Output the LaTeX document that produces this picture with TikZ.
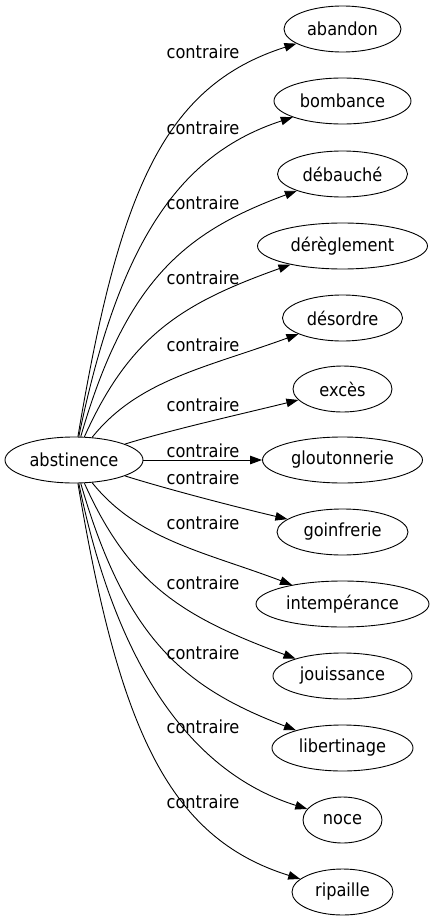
\documentclass[tikz,border=0pt]{standalone}
\usepackage{fontspec}
\setmainfont{DejaVu Sans Condensed}
\usetikzlibrary{
  arrows.meta,
  shapes.geometric,
}

\tikzset{
  word/.style={draw, ellipse, inner sep=0pt, minimum height=46pt, line width=0.9pt},
  rel/.style={-{Triangle[length=12pt,width=8.5pt]}, line width=0.9pt},
  lbl/.style={inner sep=0pt},
}

\begin{document}
\begin{tikzpicture}[x=1pt, y=-1pt, font=\fontsize{18}{21}\selectfont]

\useasboundingbox (0,0) rectangle (433,923);

\node[word, minimum width=138pt] (abst) at (74,460) {abstinence};

\node[word, minimum width=117pt] (abandon) at (342.5,29) {abandon};
\node[word, minimum width=137pt] (bomb) at (342.5,101) {bombance};
\node[word, minimum width=130pt] (debau) at (342.5,174) {débauché};
\node[word, minimum width=170pt] (dereg) at (342.5,246) {dérèglement};
\node[word, minimum width=120pt] (desor) at (342.5,318) {désordre};
\node[word, minimum width=99pt] (exces) at (342.5,389) {excès};
\node[word, minimum width=160pt] (glout) at (342.5,460) {gloutonnerie};
\node[word, minimum width=131pt] (goinf) at (342.5,532) {goinfrerie};
\node[word, minimum width=173pt] (intemp) at (342.5,604) {intempérance};
\node[word, minimum width=139pt] (jouis) at (342.5,676) {jouissance};
\node[word, minimum width=141pt] (liber) at (342.5,748) {libertinage};
\node[word, minimum width=79pt] (noce) at (342.5,820) {noce};
\node[word, minimum width=101pt] (ripa) at (342.5,892) {ripaille};

\draw[rel] (abst) .. controls (119,192) and (163,86) .. (abandon) node[lbl] at (203,52) {contraire};
\draw[rel] (abst) .. controls (119,241) and (180,154) .. (bomb) node[lbl] at (203,128) {contraire};
\draw[rel] (abst) .. controls (126,280) and (185,232) .. (debau) node[lbl] at (203,203) {contraire};
\draw[rel] (abst) .. controls (130,335) and (183,303) .. (dereg) node[lbl] at (203,278) {contraire};
\draw[rel] (abst) .. controls (138,380) and (205,368) .. (desor) node[lbl] at (203,345) {contraire};
\draw[rel] (abst) .. controls (170,430) and (250,412) .. (exces) node[lbl] at (203,405) {contraire};
\draw[rel] (abst) -- (glout) node[lbl] at (203,451) {contraire};
\draw[rel] (abst) .. controls (170,490) and (240,508) .. (goinf) node[lbl] at (203,478) {contraire};
\draw[rel] (abst) .. controls (138,540) and (205,552) .. (intemp) node[lbl] at (203,523) {contraire};
\draw[rel] (abst) .. controls (130,585) and (183,617) .. (jouis) node[lbl] at (203,583) {contraire};
\draw[rel] (abst) .. controls (126,640) and (185,688) .. (liber) node[lbl] at (203,653) {contraire};
\draw[rel] (abst) .. controls (119,679) and (199,775) .. (noce) node[lbl] at (203,727) {contraire};
\draw[rel] (abst) .. controls (119,728) and (168,838) .. (ripa) node[lbl] at (203,802) {contraire};

\end{tikzpicture}
\end{document}
